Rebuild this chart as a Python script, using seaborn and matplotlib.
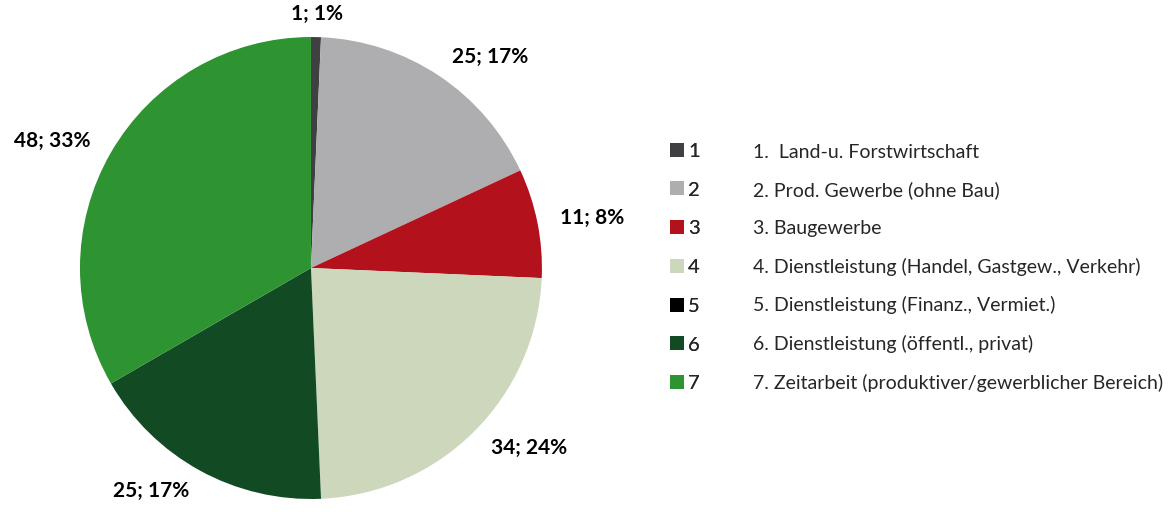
import matplotlib
matplotlib.use('Agg')
import matplotlib.pyplot as plt
from matplotlib.lines import Line2D
from matplotlib.patches import Patch
import seaborn as sns

sns.set_theme(style='white')
plt.rcParams['font.family'] = ['Lato', 'DejaVu Sans']

codes = ['1', '2', '3', '4', '5', '6', '7']
sectors = ['1.  Land-u. Forstwirtschaft',
           '2. Prod. Gewerbe (ohne Bau)',
           '3. Baugewerbe',
           '4. Dienstleistung (Handel, Gastgew., Verkehr)',
           '5. Dienstleistung (Finanz., Vermiet.)',
           '6. Dienstleistung (öffentl., privat)',
           '7. Zeitarbeit (produktiver/gewerblicher Bereich)']
counts = [1, 25, 11, 34, 0, 25, 48]
colors = ['#404042', '#AEAEB0', '#B3121D', '#CDD7BC', '#000000', '#124A23', '#2E9432']

total = sum(counts)
labels = ['%d; %d%%' % (v, round(100 * v / total)) if v > 0 else '' for v in counts]

fig = plt.figure(figsize=(11.71, 5.12), dpi=100)
ax = fig.add_axes([0.0683, 0.0254, 0.3945, 0.9023])

wedges, texts = ax.pie(counts, colors=colors, labels=labels, startangle=90,
                       counterclock=False, labeldistance=1.1,
                       wedgeprops=dict(linewidth=0),
                       textprops=dict(fontsize=15, fontweight='bold', color='black'))
# the tiny first slice sits on top, centre its label
texts[0].set_ha('center')
ax.set_aspect('equal')
ax.set_xlim(-1, 1)
ax.set_ylim(-1, 1)
for t in texts:
    t.set_clip_on(False)

# legend with coloured squares and the code numbers
handles = [Line2D([], [], marker='s', markersize=9.5, linestyle='none',
                  markerfacecolor=c, markeredgewidth=0) for c in colors]
leg1 = fig.legend(handles, codes, loc='upper left', bbox_to_anchor=(0.5635, 0.741),
                  frameon=False, fontsize=14.5, handlelength=0.7, handletextpad=0.2,
                  labelspacing=1.075, borderpad=0)
fig.add_artist(leg1)

# second legend column with the sector names
blank = [Patch(facecolor='none', edgecolor='none') for _ in sectors]
fig.legend(blank, sectors, loc='upper left', bbox_to_anchor=(0.635, 0.738),
           frameon=False, fontsize=14, handlelength=0, handletextpad=0,
           labelspacing=1.06, borderpad=0)

fig.savefig('out.png', dpi=100)
